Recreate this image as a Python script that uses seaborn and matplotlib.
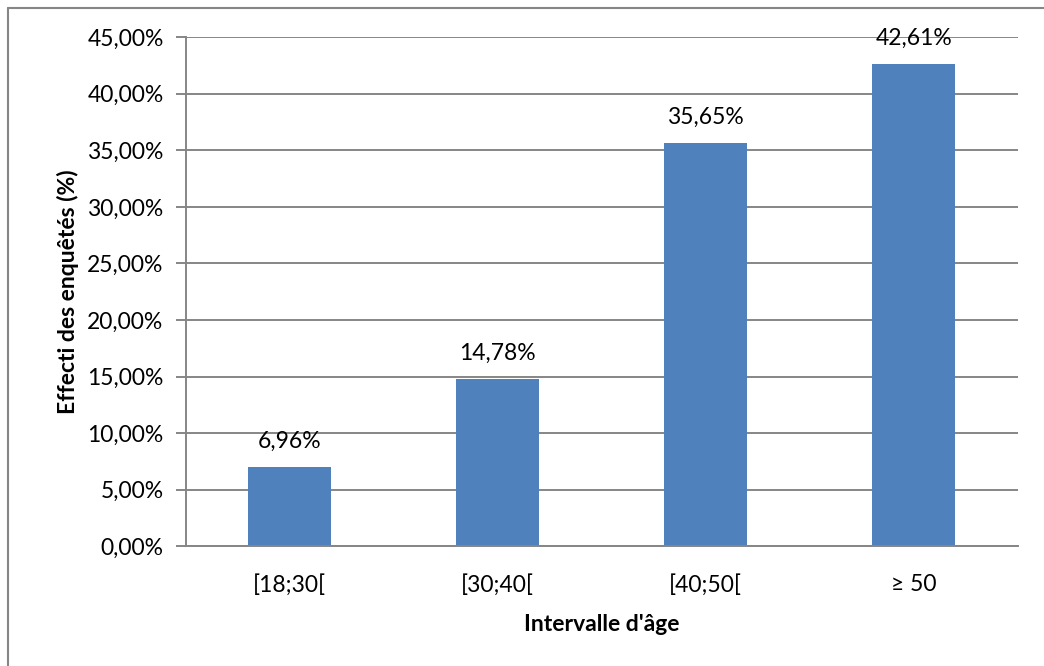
"""
Bar chart: share of respondents by age interval.
Output: out.png
"""

import matplotlib
matplotlib.use("Agg")
import matplotlib.pyplot as plt
from matplotlib.lines import Line2D
from matplotlib.ticker import FuncFormatter, FixedLocator
import pandas as pd
import seaborn as sns

# ---- Data ----
age_groups = ["[18;30[", "[30;40[", "[40;50[", "\u2265 50"]
shares = [0.0696, 0.1478, 0.3565, 0.4261]
y_ticks = [0.00, 0.05, 0.10, 0.15, 0.20, 0.25, 0.30, 0.35, 0.40, 0.45]

BAR_COLOR = "#4F81BD"
GRID_COLOR = "#868686"
FS = 16.5


def pct_fr(v, _pos=None):
    """0.0696 -> '6,96%' (French decimal comma)."""
    return f"{v*100:.2f}%".replace(".", ",")


def main():
    sns.set_style("white")
    plt.rcParams["font.family"] = ["Lato", "DejaVu Sans"]
    plt.rcParams["text.color"] = "black"
    plt.rcParams["axes.labelcolor"] = "black"

    df = pd.DataFrame({"age": age_groups, "share": shares})

    fig = plt.figure(figsize=(10.44, 6.66), dpi=100)
    ax = fig.add_axes([0.178, 0.180, 0.797, 0.764])

    sns.barplot(data=df, x="age", y="share", color=BAR_COLOR,
                width=0.40, saturation=1, linewidth=0, ax=ax)

    # ---- y axis ----
    ax.set_ylim(0, 0.45)
    ax.set_xlim(-0.5, len(age_groups) - 0.5)
    ax.yaxis.set_major_locator(FixedLocator(y_ticks))
    ax.yaxis.set_major_formatter(FuncFormatter(pct_fr))
    ax.yaxis.grid(True, color=GRID_COLOR, linewidth=1.4)
    ax.set_axisbelow(True)

    # category boundary ticks on the x axis, like Excel
    ax.xaxis.set_minor_locator(FixedLocator([i - 0.5 for i in range(len(age_groups) + 1)]))
    ax.tick_params(axis="x", which="major", length=0, pad=20, labelsize=FS, labelcolor="black")
    ax.tick_params(axis="x", which="minor", length=7, width=1.4, color=GRID_COLOR, direction="out")
    ax.tick_params(axis="y", which="major", length=7, width=1.4, color=GRID_COLOR,
                   direction="out", labelsize=FS, labelcolor="black", pad=9, left=True)

    for side in ["top", "right"]:
        ax.spines[side].set_visible(False)
    for side in ["left", "bottom"]:
        ax.spines[side].set_color(GRID_COLOR)
        ax.spines[side].set_linewidth(1.4)

    ax.set_xlabel("Intervalle d'âge", fontsize=FS, fontweight="bold", labelpad=13)
    ax.set_ylabel("Effecti des enquêtés (%)", fontsize=FS, fontweight="bold", labelpad=6)

    # ---- value labels ----
    for cont in ax.containers:
        ax.bar_label(cont, labels=[pct_fr(v) for v in shares], padding=11, fontsize=FS)

    # ---- chart area border (visible on left and top only) ----
    fig.add_artist(Line2D([8 / 1044, 8 / 1044], [0, 1 - 8 / 666], color=GRID_COLOR,
                          linewidth=1.5, transform=fig.transFigure))
    fig.add_artist(Line2D([8 / 1044, 1], [1 - 8 / 666, 1 - 8 / 666], color=GRID_COLOR,
                          linewidth=1.5, transform=fig.transFigure))

    fig.savefig("out.png", dpi=100)
    plt.close(fig)


if __name__ == "__main__":
    main()
